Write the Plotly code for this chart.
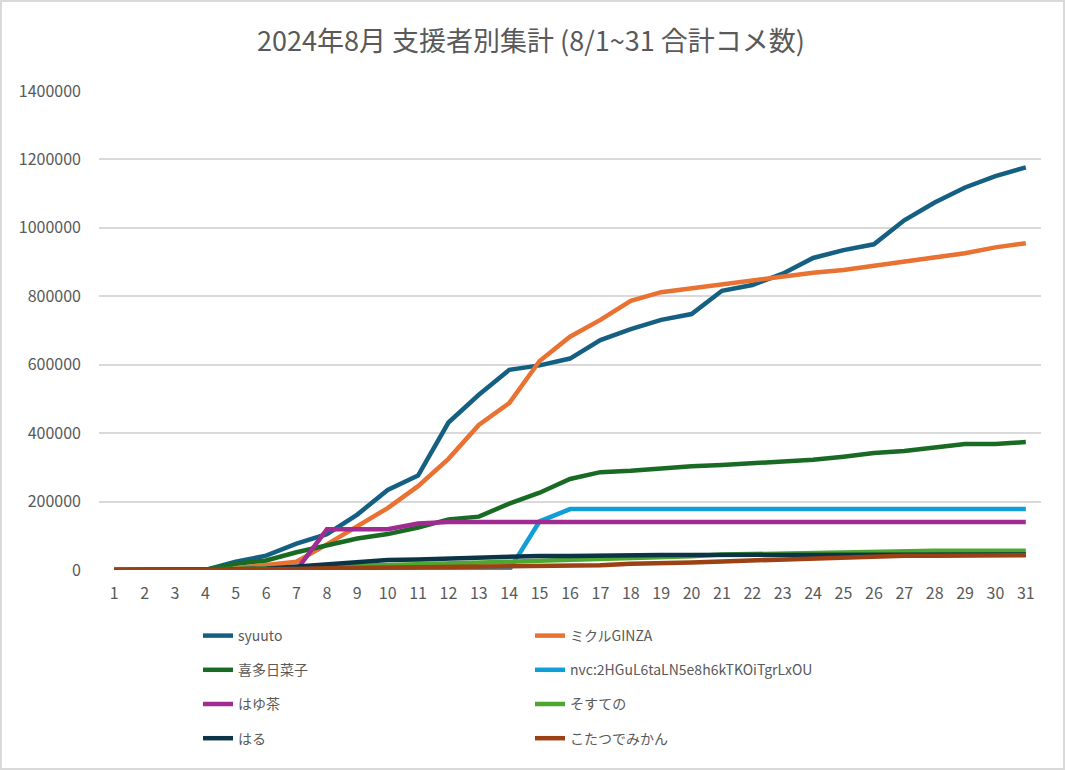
import plotly.graph_objects as go

days = list(range(1, 32))
day_labels = [str(d) for d in days]

syuuto = [0, 0, 0, 0, 24000, 42000, 77000, 105000, 162000, 234000, 276000, 431000, 512000, 585000,
          598000, 618000, 672000, 704000, 731000, 748000, 816000, 833000, 866000, 912000, 935000,
          952000, 1022000, 1074000, 1118000, 1151000, 1177000]
mikuru = [0, 0, 0, 0, 5000, 15000, 24000, 75000, 127000, 181000, 245000, 325000, 424000, 488000,
          611000, 682000, 731000, 787000, 812000, 824000, 836000, 846000, 858000, 869000, 877000,
          889000, 903000, 914000, 926000, 943000, 955000]
kita = [0, 0, 0, 0, 18000, 28000, 52000, 71000, 92000, 105000, 124000, 148000, 156000, 194000,
        226000, 266000, 286000, 290000, 298000, 303000, 307000, 312000, 316000, 322000, 331000,
        342000, 348000, 357000, 368000, 368000, 374000]
nvc = [0, 0, 0, 0, 0, 0, 0, 0, 0, 0, 0, 0, 0, 0,
       142000, 178000, 178000, 178000, 178000, 178000, 178000, 178000, 178000, 178000, 178000,
       178000, 178000, 178000, 178000, 178000, 178000]
hayucha = [0, 0, 0, 0, 0, 0, 0, 119000, 119000, 119000, 136000, 140000, 140000, 140000,
           140000, 140000, 140000, 140000, 140000, 140000, 140000, 140000, 140000, 140000, 140000,
           140000, 140000, 140000, 140000, 140000, 140000]
sosuteno = [0, 0, 0, 0, 3000, 5000, 7000, 10000, 12000, 14000, 16000, 18000, 20000, 24000,
            27000, 29000, 32000, 34000, 37000, 40000, 45000, 47000, 49000, 50000, 51000,
            52000, 54000, 56000, 56000, 56000, 56000]
haru = [0, 0, 0, 0, 2000, 4000, 10000, 17000, 25000, 29000, 31000, 34000, 34000, 37000,
        41000, 41000, 43000, 43000, 44000, 44000, 44000, 44000, 44000, 44000, 44000,
        45000, 45000, 45000, 45000, 45000, 45000]
kotatsu = [0, 0, 0, 0, 1000, 2000, 3000, 5000, 6000, 7000, 8000, 9000, 9000, 9000,
           11000, 13000, 14000, 18000, 19000, 22000, 25000, 28000, 33000, 36000, 38000,
           40000, 42000, 42000, 43000, 43000, 43000]

y_ticks = [0, 200000, 400000, 600000, 800000, 1000000, 1200000, 1400000]
y_tick_labels = [str(v) for v in y_ticks]

series = [
    ("syuuto", syuuto, "#156082", "legend"),
    ("ミクルGINZA", mikuru, "#E97132", "legend2"),
    ("喜多日菜子", kita, "#196B24", "legend"),
    ("nvc:2HGuL6taLN5e8h6kTKOiTgrLxOU", nvc, "#0F9ED5", "legend2"),
    ("はゆ茶", hayucha, "#A02B93", "legend"),
    ("そすての", sosuteno, "#4EA72E", "legend2"),
    ("はる", haru, "#0C3447", "legend"),
    ("こたつでみかん", kotatsu, "#9B4114", "legend2"),
]

FONT = "Noto Sans CJK JP, Noto Sans, sans-serif"
GREY = "#595959"

fig = go.Figure()
for i, (name, vals, color, lg) in enumerate(series):
    fig.add_trace(go.Scatter(
        x=days, y=vals, name=name, mode="lines",
        line=dict(color=color, width=4.5, shape="linear"),
        legend=lg, legendgroup=f"g{i}",
    ))

W, H = 1065, 770
ml, mr, mt, mb = 99, 24, 91, 200
pw = W - ml - mr
ph = H - mt - mb

legend_common = dict(
    orientation="v", yanchor="top", xanchor="left",
    font=dict(family=FONT, size=14, color=GREY),
    bgcolor="rgba(0,0,0,0)", tracegroupgap=13, itemwidth=30,
)
ly = (mt + ph - 620) / ph

fig.update_layout(
    width=W, height=H,
    margin=dict(l=ml, r=mr, t=mt, b=mb, autoexpand=False),
    paper_bgcolor="white", plot_bgcolor="white",
    title=dict(text="2024年8月 支援者別集計 (8/1~31 合計コメ数)",
               font=dict(family=FONT, size=27, color=GREY),
               x=531 / W, xanchor="center", y=1 - 42 / H, yanchor="middle"),
    xaxis=dict(range=[0.5, 31.5], tickmode="array", tickvals=days, ticktext=day_labels,
               showgrid=False, zeroline=False, showline=False, ticks="", automargin=False,
               tickfont=dict(family=FONT, size=16, color=GREY), ticklabelstandoff=12),
    yaxis=dict(range=[0, 1400000], tickmode="array", tickvals=y_ticks, ticktext=y_tick_labels,
               showgrid=True, gridcolor="#D9D9D9", gridwidth=1.5, zeroline=False, showline=False,
               ticks="", automargin=False,
               tickfont=dict(family=FONT, size=16, color=GREY), ticklabelstandoff=17),
    legend=dict(x=(198 - ml) / pw, y=ly, **legend_common),
    legend2=dict(x=(530 - ml) / pw, y=ly, **legend_common),
    showlegend=True,
)

# outer chart border
fig.add_shape(type="rect", xref="paper", yref="paper",
              x0=(1 - ml) / pw, x1=(W - 1 - ml) / pw,
              y0=-(H - 1 - mt - ph) / ph, y1=(mt - 1) / ph + 1,
              line=dict(color="#D9D9D9", width=2), layer="below")

fig.write_html("out.html")
